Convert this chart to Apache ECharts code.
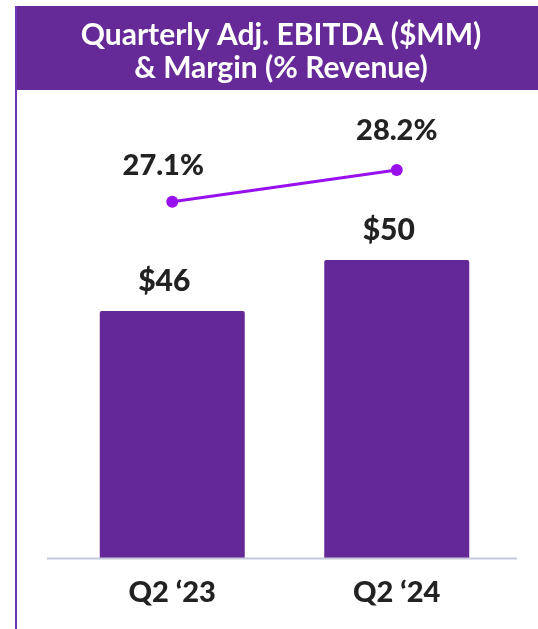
<!DOCTYPE html>
<html>
<head>
<meta charset="utf-8">
<script src="https://cdn.jsdelivr.net/npm/echarts@6/dist/echarts.min.js"></script>
<style>
html,body{margin:0;padding:0;background:#fff;}
#c{width:538px;height:629px;}
</style>
</head>
<body>
<div id="c"></div>
<script>
var categories = ["Q2 \u201823", "Q2 \u201824"];
var ebitda = [46, 50];
var margin = [27.1, 28.2];
var ebitdaLabels = ["$46", "$50"];
var marginLabels = ["27.1%", "28.2%"];
var titleLines = ["Quarterly Adj. EBITDA ($MM)", "& Margin (% Revenue)"];

var chart = echarts.init(document.getElementById('c'), null, {renderer: 'canvas'});
var FONT = 'Lato, "Open Sans", sans-serif';
var option = {
  animation: false,
  backgroundColor: '#ffffff',
  title: {
    text: titleLines.join('\n'),
    left: 276, top: 14, textAlign: 'center',
    textStyle: {color: '#ffffff', fontSize: 30, fontWeight: 'bold', fontFamily: FONT, lineHeight: 33}
  },
  graphic: [
    {type: 'rect', z: -1, shape: {x: 15, y: 6, width: 523, height: 84}, style: {fill: '#652a98'}},
    {type: 'line', z: -1, shape: {x1: 16, y1: 6, x2: 16, y2: 629}, style: {stroke: '#7038b8', lineWidth: 2}},
    {type: 'line', z: 5, shape: {x1: 47, y1: 558.5, x2: 517, y2: 558.5}, style: {stroke: '#c5c9dc', lineWidth: 2}}
  ],
  grid: {left: 60, right: 29, top: 100, bottom: 71},
  xAxis: {
    type: 'category', data: categories,
    axisLine: {show: false}, axisTick: {show: false},
    axisLabel: {color: '#222222', fontSize: 29, fontWeight: 900, fontFamily: FONT, margin: 20}
  },
  yAxis: [
    {type: 'value', min: 26.63, max: 62.55, show: false, splitLine: {show: false}},
    {type: 'value', min: 14.74, max: 30.63, show: false, splitLine: {show: false}}
  ],
  series: [
    {
      type: 'bar', data: ebitda, barWidth: 145, yAxisIndex: 0,
      itemStyle: {color: '#652898', borderRadius: [2, 2, 0, 0]},
      label: {
        show: true, position: 'top', distance: 15, offset: [-8, 0],
        formatter: function (p) { return ebitdaLabels[p.dataIndex]; },
        color: '#222222', fontSize: 30, fontWeight: 900, fontFamily: FONT
      }
    },
    {
      type: 'line', data: margin, yAxisIndex: 1, z: 3,
      symbol: 'circle', symbolSize: 12,
      lineStyle: {color: '#9810ee', width: 3},
      itemStyle: {color: '#9810ee'},
      label: {
        show: true, position: 'top', distance: 16,
        formatter: function (p) { return marginLabels[p.dataIndex]; },
        color: '#222222', fontSize: 29, fontWeight: 900, fontFamily: FONT
      },
      labelLayout: function (p) {
        return p.dataIndex === 0 ? {dx: -9} : {dy: -3};
      }
    }
  ]
};
chart.setOption(option);
</script>
</body>
</html>
